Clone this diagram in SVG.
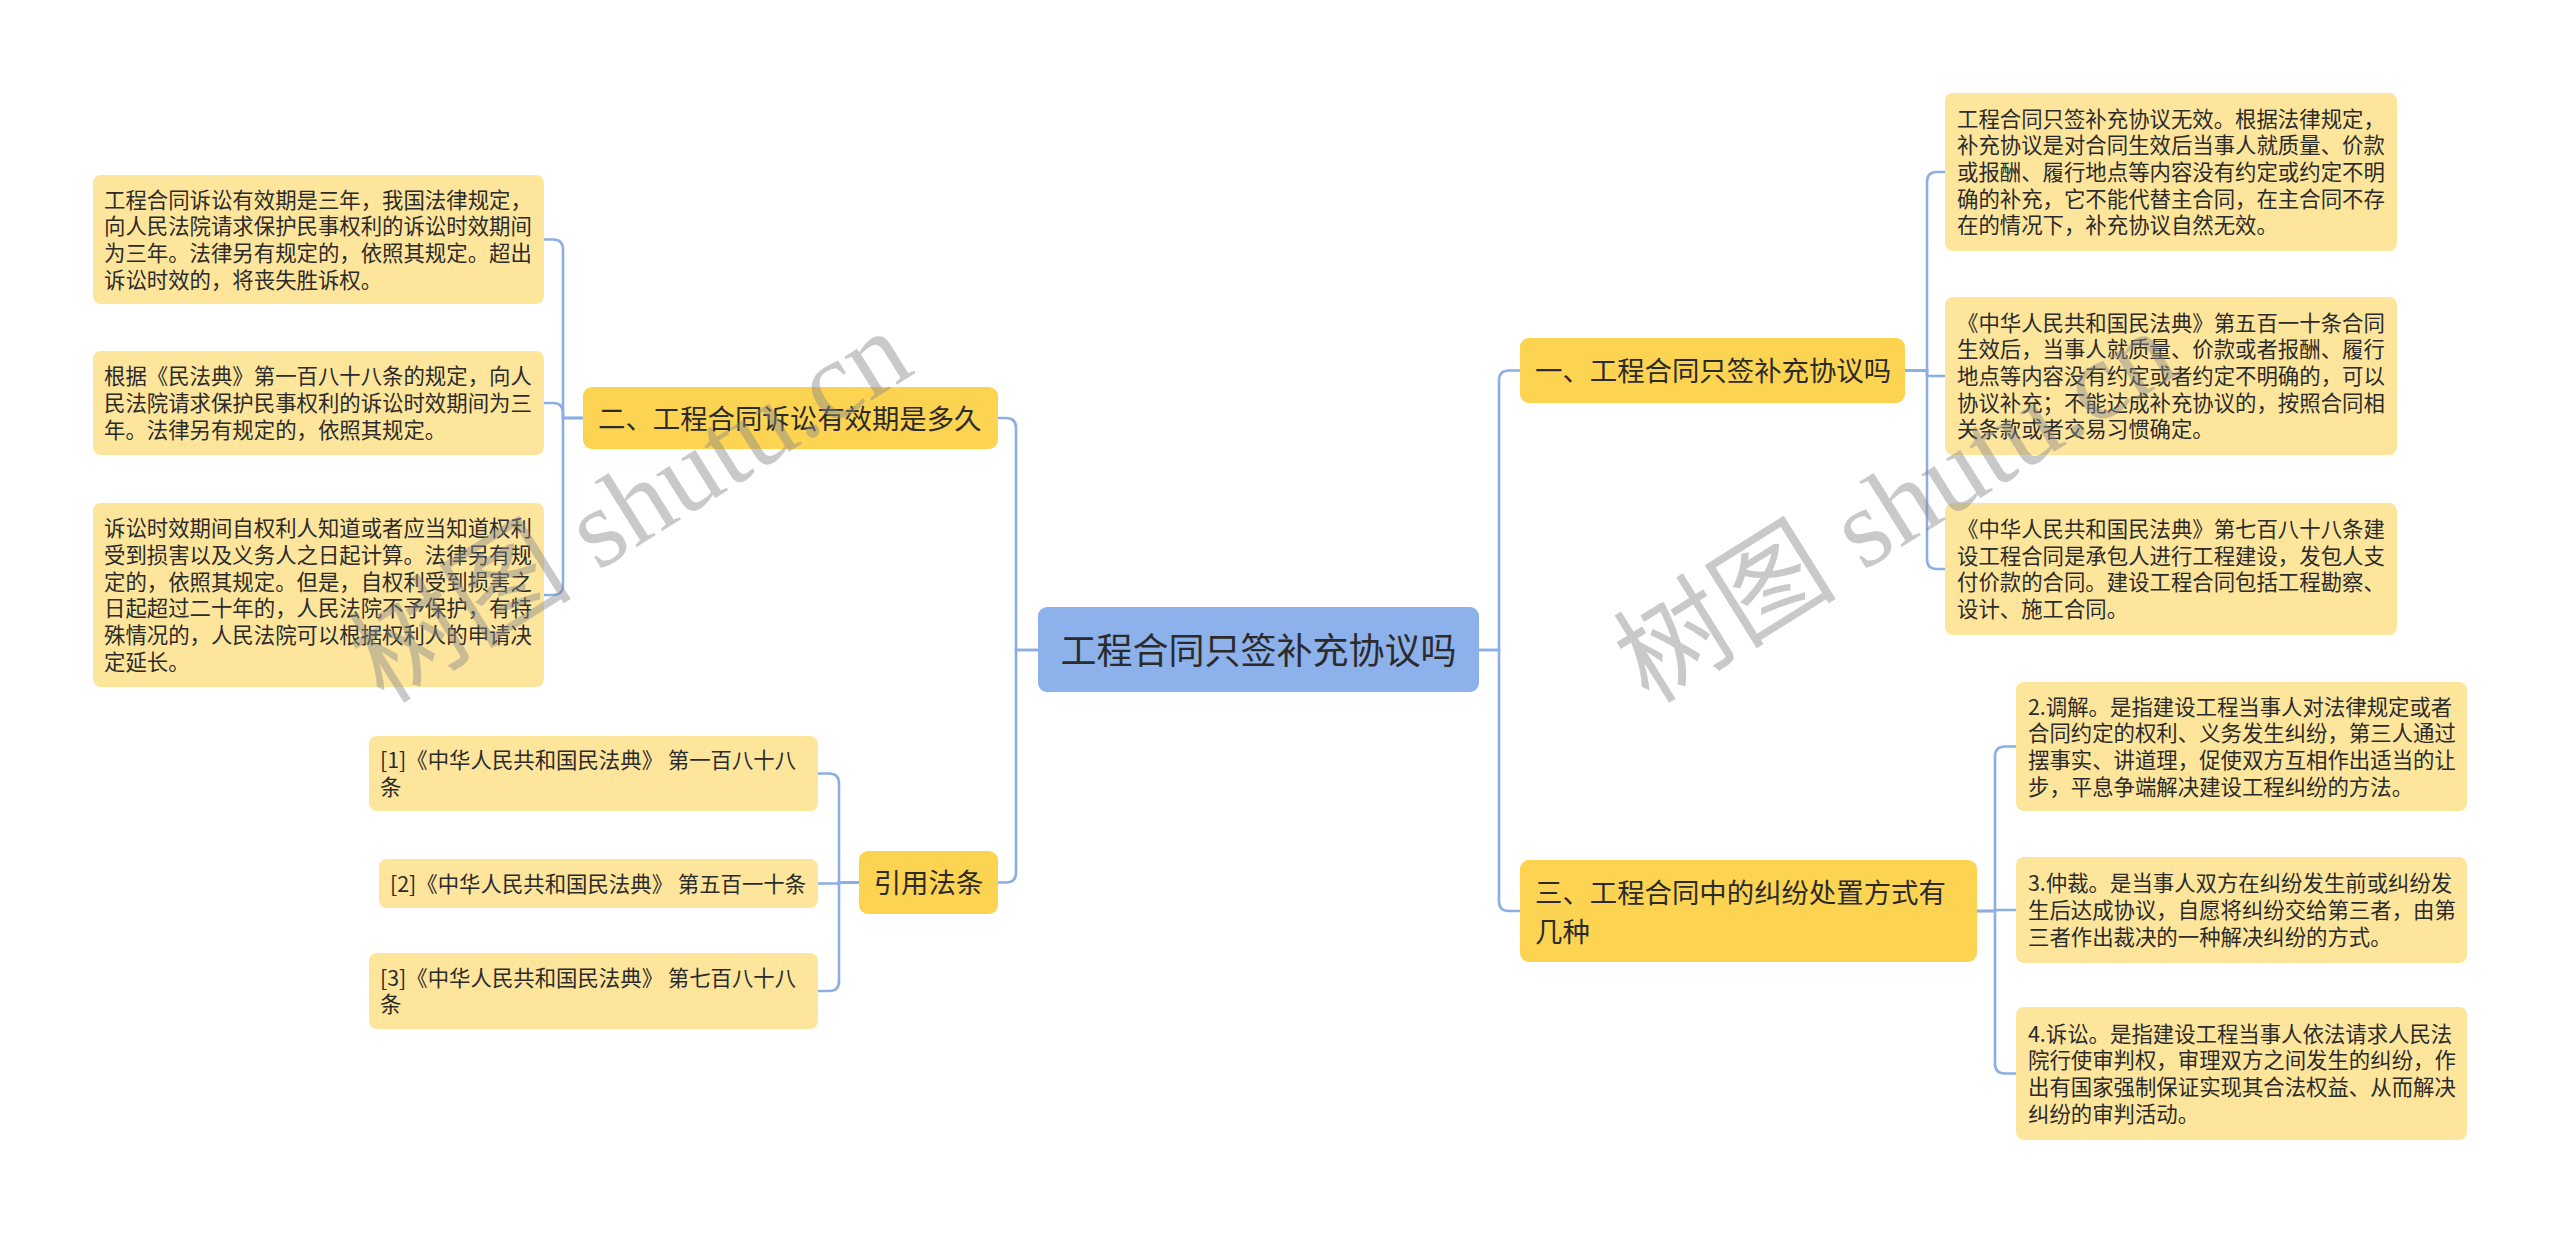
<svg xmlns="http://www.w3.org/2000/svg" width="2560" height="1234" viewBox="0 0 2560 1234">
<style>
.root{fill:#8DB1EA}
.br{fill:#FDD352}
.lf{fill:#FEE59C}
.t{font-family:"Noto Sans CJK SC","Noto Sans",sans-serif;fill:#2B2B2B}
.tl{font-size:21.4px}
.tb{font-size:27.4px}
.tr{font-size:36px}
.ln{fill:none;stroke:#8DAEE4;stroke-width:2.6}
.wm{font-family:"Liberation Serif","Noto Sans CJK SC",serif;font-size:112px;fill:#8A8A8A;opacity:0.45}
</style>
<rect width="2560" height="1234" fill="#FFFFFF"/>
<g id="connectors">
<path class="ln" d="M1479,650 H1499 V380.5 Q1499,370.5 1509,370.5 H1520"/>
<path class="ln" d="M1479,650 H1499 V901 Q1499,911 1509,911 H1520"/>
<path class="ln" d="M1038,650 H1016 V428 Q1016,418 1006,418 H998"/>
<path class="ln" d="M1038,650 H1016 V872.5 Q1016,882.5 1006,882.5 H998"/>
<path class="ln" d="M1905,370.5 H1927 V182 Q1927,172 1937,172 H1945"/>
<path class="ln" d="M1905,370.5 H1927 V376 H1945"/>
<path class="ln" d="M1905,370.5 H1927 V559 Q1927,569 1937,569 H1945"/>
<path class="ln" d="M1977,911 H1995 V756.5 Q1995,746.5 2005,746.5 H2016"/>
<path class="ln" d="M1977,911 H1995 V910 H2016"/>
<path class="ln" d="M1977,911 H1995 V1063.5 Q1995,1073.5 2005,1073.5 H2016"/>
<path class="ln" d="M583,418 H563 V249.5 Q563,239.5 553,239.5 H544"/>
<path class="ln" d="M583,418 H563 V413 Q563,403 553,403 H544"/>
<path class="ln" d="M583,418 H563 V585 Q563,595 553,595 H544"/>
<path class="ln" d="M859,882.5 H839 V783.5 Q839,773.5 829,773.5 H818"/>
<path class="ln" d="M859,882.5 H839 V883.5 H818"/>
<path class="ln" d="M859,882.5 H839 V981 Q839,991 829,991 H818"/>
</g>
<g id="root">
<rect class="root" x="1038" y="607" width="441" height="85" rx="9"/>
<text class="t tr" x="1258.5" y="663.5" text-anchor="middle">工程合同只签补充协议吗</text>
</g>
<g id="b2">
<rect class="br" x="583" y="387" width="415" height="62" rx="9"/>
<text class="t tb" x="598" y="428.5">二、工程合同诉讼有效期是多久</text>
</g>
<g id="bref">
<rect class="br" x="859" y="851" width="139" height="63" rx="9"/>
<text class="t tb" x="928.5" y="893" text-anchor="middle">引用法条</text>
</g>
<g id="b1">
<rect class="br" x="1520" y="338" width="385" height="65" rx="9"/>
<text class="t tb" x="1535" y="381">一、工程合同只签补充协议吗</text>
</g>
<g id="b3">
<rect class="br" x="1520" y="860" width="457" height="102" rx="9"/>
<text class="t tb" x="1535" y="902.5">三、工程合同中的纠纷处置方式有</text>
<text class="t tb" x="1535" y="941.5">几种</text>
</g>
<g id="l1">
<rect class="lf" x="93" y="175" width="451" height="129" rx="8"/>
<text class="t tl" x="104"><tspan x="104" y="207.5">工程合同诉讼有效期是三年，我国法律规定，</tspan><tspan x="104" y="234.2">向人民法院请求保护民事权利的诉讼时效期间</tspan><tspan x="104" y="260.9">为三年。法律另有规定的，依照其规定。超出</tspan><tspan x="104" y="287.6">诉讼时效的，将丧失胜诉权。</tspan></text>
</g>
<g id="l2">
<rect class="lf" x="93" y="351" width="451" height="104" rx="8"/>
<text class="t tl"><tspan x="104" y="384.3">根据《民法典》第一百八十八条的规定，向人</tspan><tspan x="104" y="411">民法院请求保护民事权利的诉讼时效期间为三</tspan><tspan x="104" y="437.7">年。法律另有规定的，依照其规定。</tspan></text>
</g>
<g id="l3">
<rect class="lf" x="93" y="503" width="451" height="184" rx="8"/>
<text class="t tl"><tspan x="104" y="536.3">诉讼时效期间自权利人知道或者应当知道权利</tspan><tspan x="104" y="563">受到损害以及义务人之日起计算。法律另有规</tspan><tspan x="104" y="589.7">定的，依照其规定。但是，自权利受到损害之</tspan><tspan x="104" y="616.4">日起超过二十年的，人民法院不予保护，有特</tspan><tspan x="104" y="643.1">殊情况的，人民法院可以根据权利人的申请决</tspan><tspan x="104" y="669.8">定延长。</tspan></text>
</g>
<g id="r1">
<rect class="lf" x="369" y="736" width="449" height="75" rx="8"/>
<text class="t tl"><tspan x="380" y="768.2">[1]《中华人民共和国民法典》 第一百八十八</tspan><tspan x="380" y="794.9">条</tspan></text>
</g>
<g id="r2">
<rect class="lf" x="379" y="859" width="439" height="49" rx="8"/>
<text class="t tl" x="390" y="891.5">[2]《中华人民共和国民法典》 第五百一十条</text>
</g>
<g id="r3">
<rect class="lf" x="369" y="953" width="449" height="76" rx="8"/>
<text class="t tl"><tspan x="380" y="985.6">[3]《中华人民共和国民法典》 第七百八十八</tspan><tspan x="380" y="1012.3">条</tspan></text>
</g>
<g id="a1">
<rect class="lf" x="1945" y="93" width="452" height="158" rx="8"/>
<text class="t tl"><tspan x="1957" y="126.6">工程合同只签补充协议无效。根据法律规定，</tspan><tspan x="1957" y="153.3">补充协议是对合同生效后当事人就质量、价款</tspan><tspan x="1957" y="180">或报酬、履行地点等内容没有约定或约定不明</tspan><tspan x="1957" y="206.7">确的补充，它不能代替主合同，在主合同不存</tspan><tspan x="1957" y="233.4">在的情况下，补充协议自然无效。</tspan></text>
</g>
<g id="a2">
<rect class="lf" x="1945" y="297" width="452" height="158" rx="8"/>
<text class="t tl"><tspan x="1957" y="330.6">《中华人民共和国民法典》第五百一十条合同</tspan><tspan x="1957" y="357.3">生效后，当事人就质量、价款或者报酬、履行</tspan><tspan x="1957" y="384">地点等内容没有约定或者约定不明确的，可以</tspan><tspan x="1957" y="410.7">协议补充；不能达成补充协议的，按照合同相</tspan><tspan x="1957" y="437.4">关条款或者交易习惯确定。</tspan></text>
</g>
<g id="a3">
<rect class="lf" x="1945" y="503" width="452" height="132" rx="8"/>
<text class="t tl"><tspan x="1957" y="537">《中华人民共和国民法典》第七百八十八条建</tspan><tspan x="1957" y="563.7">设工程合同是承包人进行工程建设，发包人支</tspan><tspan x="1957" y="590.4">付价款的合同。建设工程合同包括工程勘察、</tspan><tspan x="1957" y="617.1">设计、施工合同。</tspan></text>
</g>
<g id="bb1">
<rect class="lf" x="2016" y="682" width="451" height="129" rx="8"/>
<text class="t tl"><tspan x="2028" y="714.5">2.调解。是指建设工程当事人对法律规定或者</tspan><tspan x="2028" y="741.2">合同约定的权利、义务发生纠纷，第三人通过</tspan><tspan x="2028" y="767.9">摆事实、讲道理，促使双方互相作出适当的让</tspan><tspan x="2028" y="794.6">步，平息争端解决建设工程纠纷的方法。</tspan></text>
</g>
<g id="bb2">
<rect class="lf" x="2016" y="857" width="451" height="106" rx="8"/>
<text class="t tl"><tspan x="2028" y="891.3">3.仲裁。是当事人双方在纠纷发生前或纠纷发</tspan><tspan x="2028" y="918">生后达成协议，自愿将纠纷交给第三者，由第</tspan><tspan x="2028" y="944.7">三者作出裁决的一种解决纠纷的方式。</tspan></text>
</g>
<g id="bb3">
<rect class="lf" x="2016" y="1007" width="451" height="133" rx="8"/>
<text class="t tl"><tspan x="2028" y="1041.5">4.诉讼。是指建设工程当事人依法请求人民法</tspan><tspan x="2028" y="1068.2">院行使审判权，审理双方之间发生的纠纷，作</tspan><tspan x="2028" y="1094.9">出有国家强制保证实现其合法权益、从而解决</tspan><tspan x="2028" y="1121.6">纠纷的审判活动。</tspan></text>
</g>
<g id="watermark">
<text class="wm" x="384" y="705" transform="rotate(-32 384 705)">树图 shutu.cn</text>
<text class="wm" x="1649" y="705" transform="rotate(-32 1649 705)">树图 shutu.cn</text>
</g>
</svg>
